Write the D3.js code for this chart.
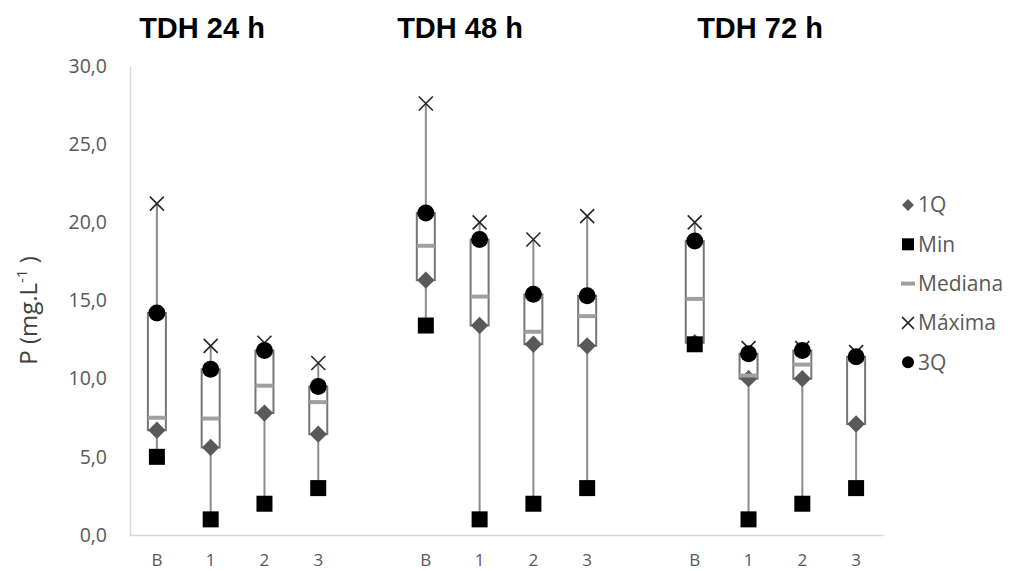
<!DOCTYPE html>
<html>
<head>
<meta charset="utf-8">
<script src="https://cdn.jsdelivr.net/npm/d3@7"></script>
<style>
  body { margin: 0; background: #fff; }
  text { font-family: "Open Sans", sans-serif; }
  text.group-title { font-family: "Liberation Sans", Arial, sans-serif; font-weight: bold; }
</style>
</head>
<body>
<div id="chart"></div>
<script>
// Chart data (null = gap between groups)
const groupTitles = ['TDH 24 h', 'TDH 48 h', 'TDH 72 h'];
const categories = ['B', '1', '2', '3', '', 'B', '1', '2', '3', '', 'B', '1', '2', '3'];
const q1Values     = [6.7, 5.6, 7.8, 6.45, null, 16.3, 13.4, 12.2, 12.1, null, 12.3, 10.0, 10.0, 7.1];
const minValues    = [5.0, 1.0, 2.0, 3.0, null, 13.4, 1.0, 2.0, 3.0, null, 12.2, 1.0, 2.0, 3.0];
const medianValues = [7.5, 7.45, 9.55, 8.5, null, 18.5, 15.25, 13.0, 14.0, null, 15.1, 10.2, 10.9, 11.2];
const maxValues    = [21.2, 12.1, 12.3, 11.0, null, 27.6, 20.0, 18.9, 20.4, null, 20.0, 11.95, 11.95, 11.7];
const q3Values     = [14.2, 10.6, 11.8, 9.5, null, 20.6, 18.9, 15.4, 15.3, null, 18.8, 11.6, 11.8, 11.4];
const yTicks = [0, 5, 10, 15, 20, 25, 30];
const legendLabels = ['1Q', 'Min', 'Mediana', 'Máxima', '3Q'];

const width = 1011, height = 571;
const margin = { top: 66, right: 128, bottom: 36, left: 130 };

const svg = d3.select('#chart').append('svg')
    .attr('width', width)
    .attr('height', height);

const x = d3.scaleBand()
    .domain(d3.range(categories.length))
    .range([margin.left, width - margin.right])
    .padding(0);
const y = d3.scaleLinear()
    .domain([0, 30])
    .range([height - margin.bottom, margin.top]);

const cx = i => x(i) + x.bandwidth() / 2;
const fmt = v => d3.format('.1f')(v).replace('.', ',');

// Axes (light gray lines, no ticks)
const yAxis = svg.append('g')
    .attr('transform', `translate(${margin.left},0)`)
    .call(d3.axisLeft(y).tickValues(yTicks).tickSize(0).tickPadding(23).tickFormat(fmt));
yAxis.select('.domain').attr('stroke', '#d9d9d9').attr('stroke-width', 1.5);
yAxis.selectAll('text').attr('fill', '#595959').attr('font-size', '19.5px');

const xAxis = svg.append('g')
    .attr('transform', `translate(0,${y(0)})`)
    .call(d3.axisBottom(x).tickSize(0).tickPadding(19).tickFormat(i => categories[i]));
xAxis.select('.domain').attr('stroke', '#d9d9d9').attr('stroke-width', 1.5);
xAxis.selectAll('text').attr('fill', '#595959').attr('font-size', '17px');

// Y axis title
svg.append('text')
    .attr('transform', `translate(37,${(y(0) + y(30)) / 2 + 10}) rotate(-90)`)
    .attr('text-anchor', 'middle')
    .attr('font-size', '24px')
    .attr('fill', '#404040')
    .call(t => {
        t.append('tspan').text('P (mg.L');
        t.append('tspan').attr('font-size', '15px').attr('dy', -10).text('-1');
        t.append('tspan').attr('dy', 10).text(' )');
    });

// Group titles
const titleX = [202, 460, 760];
svg.selectAll('.group-title')
    .data(groupTitles)
    .enter()
    .append('text')
    .attr('class', 'group-title')
    .attr('x', (d, i) => titleX[i])
    .attr('y', 38)
    .attr('text-anchor', 'middle')
    .attr('font-size', '29px')
    .attr('fill', '#000')
    .text(d => d);

const idx = d3.range(categories.length).filter(i => minValues[i] !== null);
const boxW = 18;

// Whiskers: min to max
svg.append('g')
    .selectAll('line')
    .data(idx)
    .enter()
    .append('line')
    .attr('x1', cx).attr('x2', cx)
    .attr('y1', i => y(minValues[i]))
    .attr('y2', i => y(maxValues[i]))
    .attr('stroke', '#8c8c8c')
    .attr('stroke-width', 2);

// Boxes: 1Q to 3Q
svg.append('g')
    .selectAll('rect')
    .data(idx)
    .enter()
    .append('rect')
    .attr('x', i => cx(i) - boxW / 2)
    .attr('width', boxW)
    .attr('y', i => y(q3Values[i]))
    .attr('height', i => y(q1Values[i]) - y(q3Values[i]))
    .attr('fill', '#fff')
    .attr('stroke', '#767676')
    .attr('stroke-width', 2);

// 1Q diamonds
const diamond = d3.symbol().type(d3.symbolSquare).size(150);
svg.append('g')
    .selectAll('path')
    .data(idx)
    .enter()
    .append('path')
    .attr('d', diamond)
    .attr('transform', i => `translate(${cx(i)},${y(q1Values[i])}) rotate(45)`)
    .attr('fill', '#595959');

// Min squares
svg.append('g')
    .selectAll('rect')
    .data(idx)
    .enter()
    .append('rect')
    .attr('x', i => cx(i) - 8)
    .attr('y', i => y(minValues[i]) - 8)
    .attr('width', 16)
    .attr('height', 16)
    .attr('fill', '#000');

// Median dashes
svg.append('g')
    .selectAll('line')
    .data(idx)
    .enter()
    .append('line')
    .attr('x1', i => cx(i) - boxW / 2)
    .attr('x2', i => cx(i) + boxW / 2)
    .attr('y1', i => y(medianValues[i]))
    .attr('y2', i => y(medianValues[i]))
    .attr('stroke', '#a0a0a0')
    .attr('stroke-width', 4);

// Max crosses
const cross = s => `M${-s},${-s}L${s},${s}M${-s},${s}L${s},${-s}`;
svg.append('g')
    .selectAll('path')
    .data(idx)
    .enter()
    .append('path')
    .attr('d', cross(7))
    .attr('transform', i => `translate(${cx(i)},${y(maxValues[i])})`)
    .attr('stroke', '#262626')
    .attr('stroke-width', 1.6)
    .attr('fill', 'none');

// 3Q circles
svg.append('g')
    .selectAll('circle')
    .data(idx)
    .enter()
    .append('circle')
    .attr('cx', cx)
    .attr('cy', i => y(q3Values[i]))
    .attr('r', 8.5)
    .attr('fill', '#000');

// Legend
const legend = svg.append('g').attr('transform', 'translate(908,205)');
const rowH = 39.3;
legendLabels.forEach((label, k) => {
    const g = legend.append('g').attr('transform', `translate(0,${k * rowH})`);
    if (k === 0) {
        g.append('path').attr('d', d3.symbol().type(d3.symbolSquare).size(70))
            .attr('transform', 'rotate(45)').attr('fill', '#595959');
    } else if (k === 1) {
        g.append('rect').attr('x', -6).attr('y', -6).attr('width', 12).attr('height', 12).attr('fill', '#000');
    } else if (k === 2) {
        g.append('line').attr('x1', -7).attr('x2', 7).attr('stroke', '#a0a0a0').attr('stroke-width', 4);
    } else if (k === 3) {
        g.append('path').attr('d', cross(6)).attr('stroke', '#262626').attr('stroke-width', 1.5).attr('fill', 'none');
    } else {
        g.append('circle').attr('r', 6).attr('fill', '#000');
    }
    g.append('text')
        .attr('x', 10)
        .attr('dy', '0.35em')
        .attr('font-size', '21px')
        .attr('fill', '#595959')
        .text(label);
});
</script>
</body>
</html>
